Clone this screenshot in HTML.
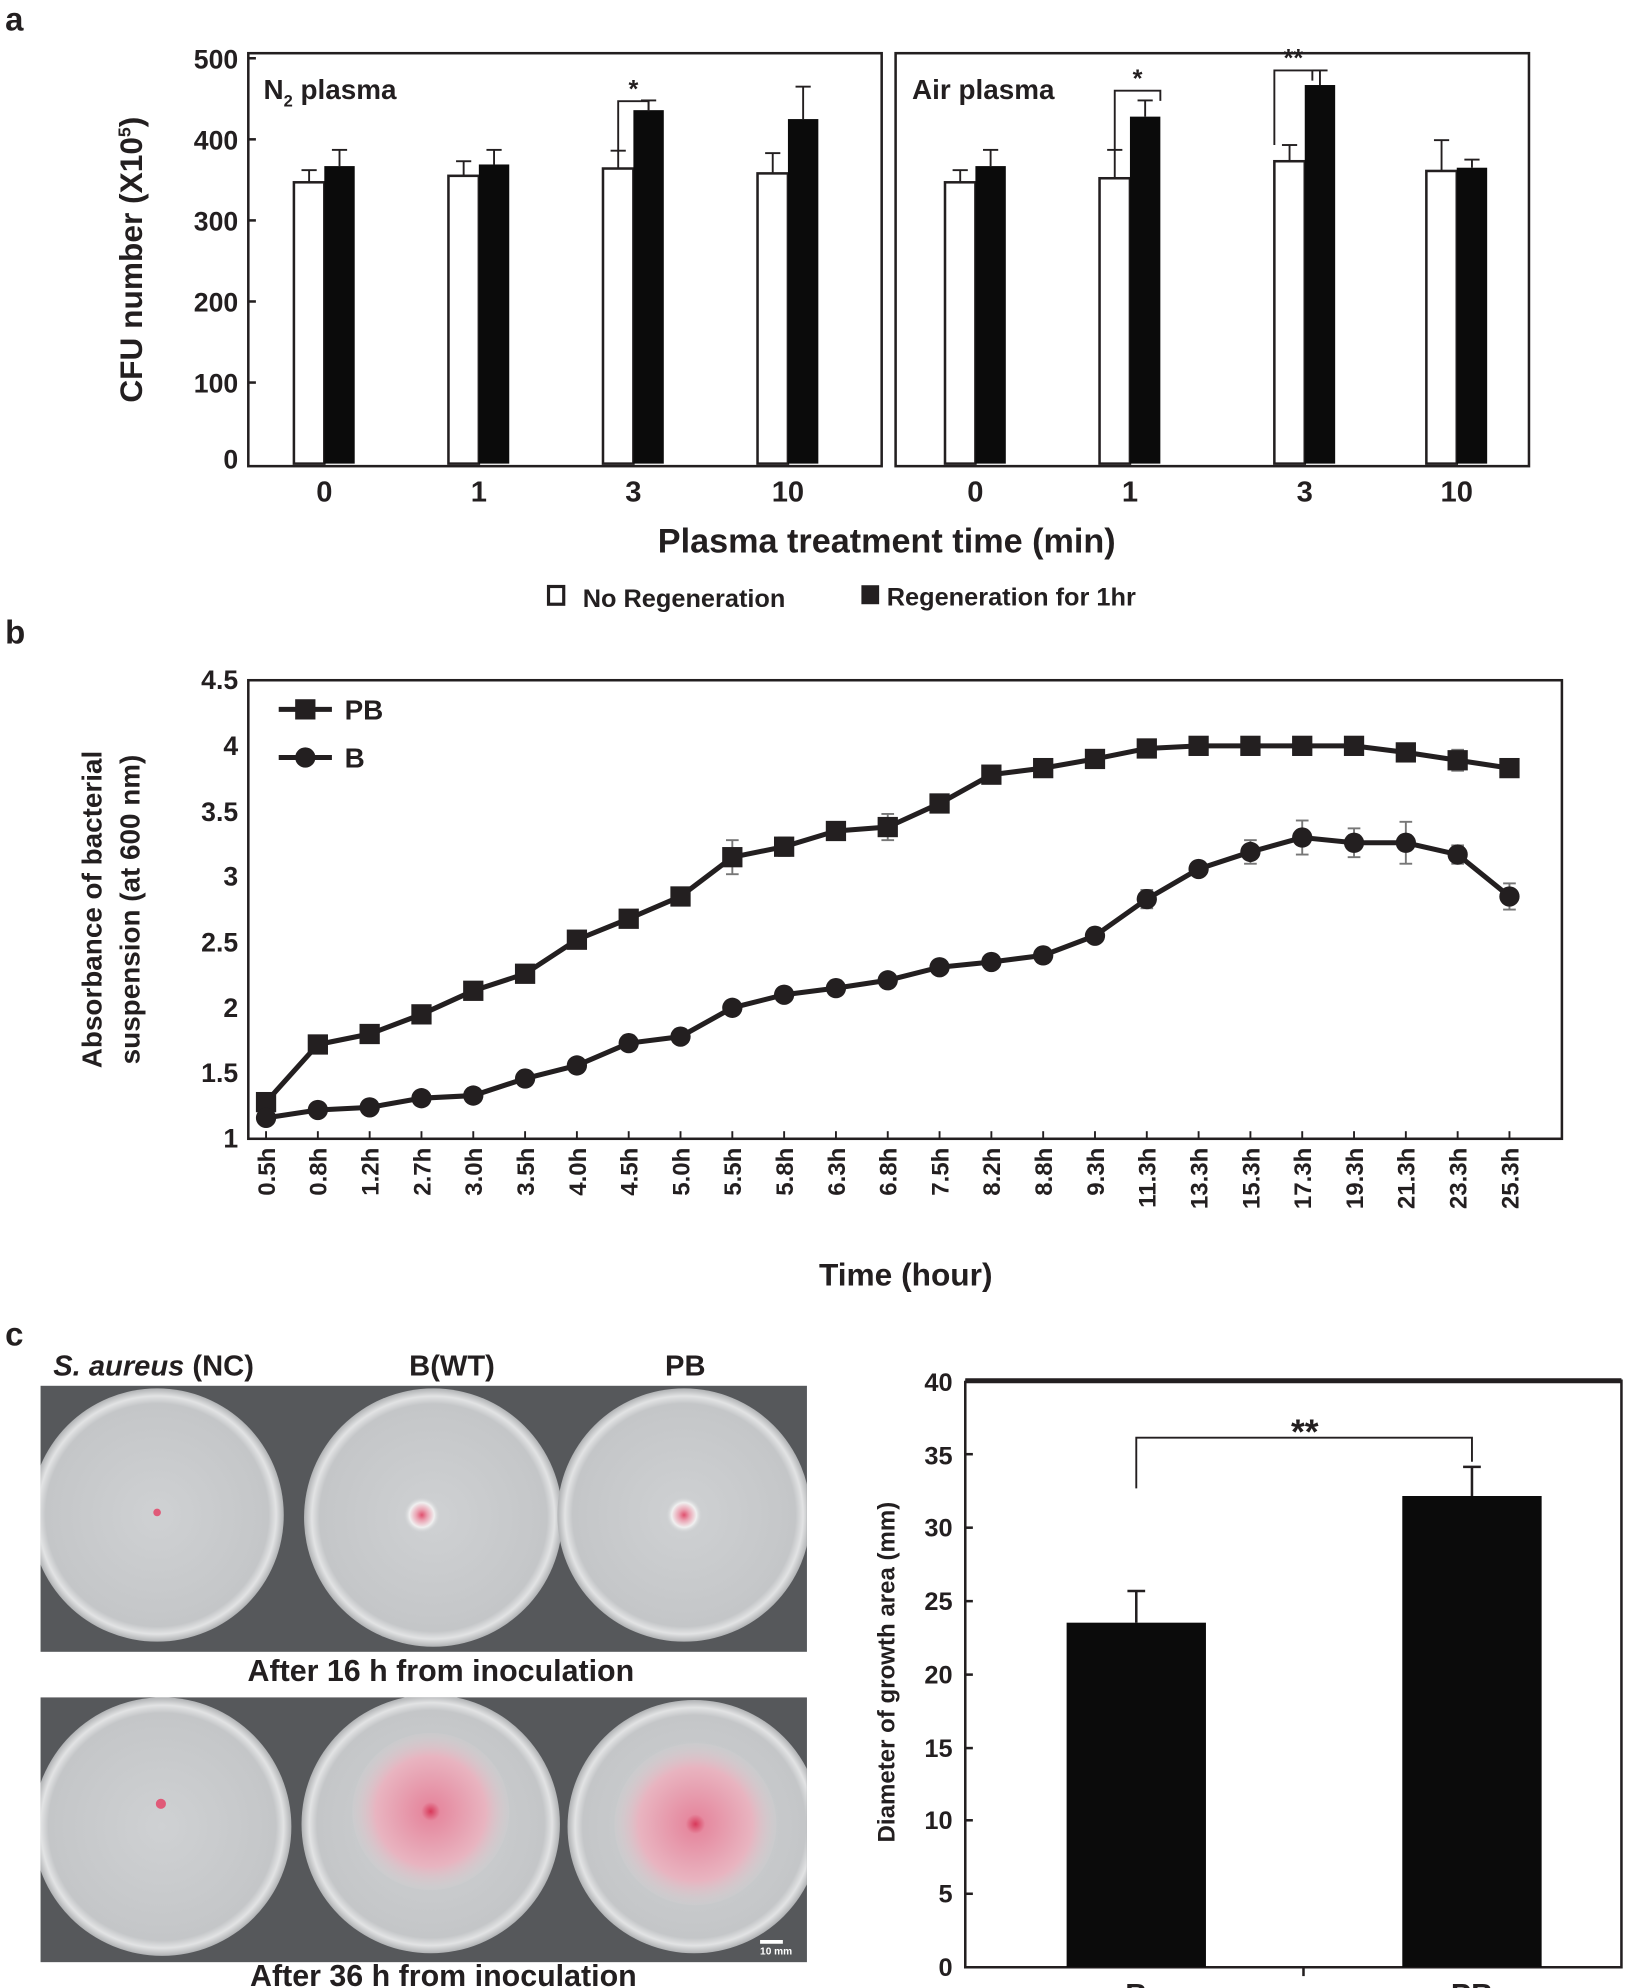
<!DOCTYPE html>
<html><head><meta charset="utf-8"><style>html,body{margin:0;padding:0;background:#fff}svg{display:block}text{font-family:"Liberation Sans",Arial,sans-serif;font-weight:bold;fill:#231f20}</style></head><body>
<svg width="1643" height="1988" viewBox="0 0 1297 1569.4" xmlns="http://www.w3.org/2000/svg">
<defs>
<radialGradient id="plate" cx="50%" cy="50%" r="50%"><stop offset="0" stop-color="#cfd1d3"/><stop offset="0.88" stop-color="#c4c6c8"/><stop offset="0.94" stop-color="#e2e3e4"/><stop offset="1" stop-color="#b0b2b4"/></radialGradient>
<radialGradient id="pink" cx="50%" cy="50%" r="50%"><stop offset="0" stop-color="#d8395a"/><stop offset="0.12" stop-color="#e68aa0"/><stop offset="0.7" stop-color="#e8b4c0"/><stop offset="1" stop-color="#d4d0d2" stop-opacity="0.3"/></radialGradient>
<radialGradient id="dot" cx="50%" cy="50%" r="50%"><stop offset="0" stop-color="#e0506e"/><stop offset="0.3" stop-color="#eaa0b0"/><stop offset="0.7" stop-color="#f0f0f0"/><stop offset="1" stop-color="#d4d6d8" stop-opacity="0"/></radialGradient>
</defs>
<text x="4" y="24" font-size="26">a</text>
<text x="4" y="508" font-size="26">b</text>
<text x="4" y="1062" font-size="26">c</text>

<g stroke="#231f20" stroke-width="2" fill="none">
<rect x="196" y="42" width="500" height="326"/>
<rect x="707" y="42" width="500" height="326"/>
</g>
<g font-size="21" text-anchor="end">
<text x="188" y="54">500</text><text x="188" y="118">400</text><text x="188" y="182">300</text><text x="188" y="246">200</text><text x="188" y="310">100</text><text x="188" y="370">0</text>
</g>
<g stroke="#231f20" stroke-width="2">
<line x1="196" y1="46" x2="202" y2="46"/><line x1="196" y1="110" x2="202" y2="110"/><line x1="196" y1="174" x2="202" y2="174"/><line x1="196" y1="238" x2="202" y2="238"/><line x1="196" y1="302" x2="202" y2="302"/>
</g>
<text transform="translate(112,205) rotate(-90)" font-size="25" text-anchor="middle">CFU number (X10<tspan dy="-9" font-size="14">5</tspan><tspan dy="9">)</tspan></text>
<text x="208" y="78" font-size="22">N<tspan dy="6" font-size="13">2</tspan><tspan dy="-6"> plasma</tspan></text>
<text x="720" y="78" font-size="22">Air plasma</text>
<g id="bars"></g>
<g font-size="23" text-anchor="middle">
<text x="256" y="396">0</text><text x="378" y="396">1</text><text x="500" y="396">3</text><text x="622" y="396">10</text>
<text x="770" y="396">0</text><text x="892" y="396">1</text><text x="1030" y="396">3</text><text x="1150" y="396">10</text>
</g>
<text x="700" y="436" font-size="27" text-anchor="middle">Plasma treatment time (min)</text>
<rect x="433" y="463" width="12" height="14" fill="#fff" stroke="#231f20" stroke-width="2.5"/>
<text x="460" y="479" font-size="20">No Regeneration</text>
<rect x="680" y="462" width="14" height="15" fill="#231f20"/>
<text x="700" y="478" font-size="20">Regeneration for 1hr</text>

<rect x="196" y="537" width="1037" height="362" fill="none" stroke="#231f20" stroke-width="2"/>
<g font-size="21" text-anchor="end">
<text x="188" y="544">4.5</text><text x="188" y="596">4</text><text x="188" y="648">3.5</text><text x="188" y="699">3</text><text x="188" y="751">2.5</text><text x="188" y="803">2</text><text x="188" y="854">1.5</text><text x="188" y="906">1</text>
</g>
<text transform="translate(80,718) rotate(-90)" font-size="22" text-anchor="middle">Absorbance of bacterial</text>
<text transform="translate(110,718) rotate(-90)" font-size="22" text-anchor="middle">suspension (at 600 nm)</text>
<g id="bpl"></g>
<text x="715" y="1015" font-size="25" text-anchor="middle">Time (hour)</text>
<line x1="220" y1="560" x2="262" y2="560" stroke="#231f20" stroke-width="4"/><rect x="233" y="552" width="16" height="16" fill="#231f20"/>
<text x="272" y="568" font-size="22">PB</text>
<line x1="220" y1="598" x2="262" y2="598" stroke="#231f20" stroke-width="4"/><circle cx="241" cy="598" r="8" fill="#231f20"/>
<text x="272" y="606" font-size="22">B</text>

<text x="42" y="1086" font-size="23"><tspan font-style="italic">S. aureus</tspan> (NC)</text>
<text x="323" y="1086" font-size="23">B(WT)</text>
<text x="525" y="1086" font-size="23">PB</text>
<rect x="32" y="1094" width="605" height="210" fill="#56585b"/>
<rect x="32" y="1340" width="605" height="209" fill="#56585b"/>
<svg x="32" y="1094" width="605" height="210" overflow="hidden">
<circle cx="92" cy="102" r="100" fill="url(#plate)"/><circle cx="310" cy="104" r="102" fill="url(#plate)"/><circle cx="508" cy="102" r="100" fill="url(#plate)"/>
<circle cx="92" cy="100" r="3" fill="#e05a78"/><circle cx="301" cy="102" r="14" fill="url(#dot)"/><circle cx="508" cy="102" r="14" fill="url(#dot)"/>
</svg>
<svg x="32" y="1340" width="605" height="209" overflow="hidden">
<circle cx="96" cy="102" r="102" fill="url(#plate)"/><circle cx="308" cy="100" r="102" fill="url(#plate)"/><circle cx="516" cy="102" r="100" fill="url(#plate)"/>
<circle cx="95" cy="84" r="4" fill="#e05a78"/><circle cx="308" cy="90" r="62" fill="url(#pink)"/><circle cx="517" cy="100" r="64" fill="url(#pink)"/>
</svg>
<line x1="600" y1="1533" x2="618" y2="1533" stroke="#fff" stroke-width="3"/>
<text x="600" y="1543" font-size="8" style="fill:#fff">10 mm</text>
<text x="348" y="1327" font-size="24" text-anchor="middle">After 16 h from inoculation</text>
<text x="350" y="1568" font-size="24" text-anchor="middle">After 36 h from inoculation</text>

<polyline points="762,1090 762,1553 1280,1553 1280,1090 762,1090" fill="none" stroke="#231f20" stroke-width="2"/>
<line x1="762" y1="1090" x2="1280" y2="1090" stroke="#231f20" stroke-width="4"/>
<g font-size="20" text-anchor="end">
<text x="752" y="1098">40</text><text x="752" y="1156">35</text><text x="752" y="1213">30</text><text x="752" y="1271">25</text><text x="752" y="1329">20</text><text x="752" y="1387">15</text><text x="752" y="1444">10</text><text x="752" y="1502">5</text><text x="752" y="1560">0</text>
</g>
<g stroke="#231f20" stroke-width="2">
<line x1="762" y1="1148" x2="768" y2="1148"/><line x1="762" y1="1206" x2="768" y2="1206"/><line x1="762" y1="1264" x2="768" y2="1264"/><line x1="762" y1="1322" x2="768" y2="1322"/><line x1="762" y1="1380" x2="768" y2="1380"/><line x1="762" y1="1437" x2="768" y2="1437"/><line x1="762" y1="1495" x2="768" y2="1495"/>
<line x1="1029" y1="1553" x2="1029" y2="1560"/>
</g>
<text transform="translate(706,1320) rotate(-90)" font-size="19" text-anchor="middle">Diameter of growth area (mm)</text>
<rect x="842" y="1281" width="110" height="272" fill="#0b0b0b"/>
<rect x="1107" y="1181" width="110" height="372" fill="#0b0b0b"/>
<g stroke="#231f20" stroke-width="2" fill="none">
<line x1="897" y1="1281" x2="897" y2="1256"/><line x1="890" y1="1256" x2="904" y2="1256"/>
<line x1="1162" y1="1181" x2="1162" y2="1158"/><line x1="1155" y1="1158" x2="1169" y2="1158"/>
<polyline points="897,1175 897,1135 1162,1135 1162,1154" stroke-width="1.5"/>
</g>
<text x="1030" y="1140" font-size="28" text-anchor="middle">**</text>
<text x="897" y="1583" font-size="24" text-anchor="middle">B</text>
<text x="1162" y="1583" font-size="24" text-anchor="middle">PB</text>
</svg>
<script>
const NS="http://www.w3.org/2000/svg";
function el(p,t,a,tx){const e=document.createElementNS(NS,t);for(const k in a)e.setAttribute(k,a[k]);if(tx!==undefined)e.textContent=tx;p.appendChild(e);return e;}
const g=document.getElementById('bars');
const yA=v=>366-v*0.64;
const groups=[[256,347,15,367,20],[378,355,18,369,18],[500,364,22,436,12],[622,358,25,425,40],[770,347,15,367,20],[892,352,35,428,20],[1030,373,20,467,18],[1150,361,38,365,10]];
groups.forEach(([x,w,we,b,be])=>{
 el(g,'rect',{x:x-24,y:yA(w),width:24,height:yA(0)-yA(w),fill:'#fff',stroke:'#231f20','stroke-width':2});
 el(g,'rect',{x:x,y:yA(b),width:24,height:yA(0)-yA(b),fill:'#0b0b0b'});
 [[x-12,w,we],[x+12,b,be]].forEach(([cx,v,e])=>{el(g,'line',{x1:cx,y1:yA(v),x2:cx,y2:yA(v+e),stroke:'#231f20','stroke-width':1.5});el(g,'line',{x1:cx-6,y1:yA(v+e),x2:cx+6,y2:yA(v+e),stroke:'#231f20','stroke-width':1.5});});
});
[[488,512,yA(386),yA(447),'*'],[880,916,yA(388),yA(460),'*'],[1006,1036,yA(393),yA(485),'**']].forEach(([x1,x2,ylo,yt,s])=>{
 el(g,'polyline',{points:`${x1},${ylo} ${x1},${yt} ${x2},${yt} ${x2},${yt+8}`,fill:'none',stroke:'#231f20','stroke-width':1.5});
 el(g,'text',{x:(x1+x2)/2,y:yt-3,'font-size':20,'text-anchor':'middle'},s);
});
const b=document.getElementById('bpl');
const labs=["0.5h","0.8h","1.2h","2.7h","3.0h","3.5h","4.0h","4.5h","5.0h","5.5h","5.8h","6.3h","6.8h","7.5h","8.2h","8.8h","9.3h","11.3h","13.3h","15.3h","17.3h","19.3h","21.3h","23.3h","25.3h"];
const PB=[1.28,1.72,1.80,1.95,2.13,2.26,2.52,2.68,2.85,3.15,3.23,3.35,3.38,3.56,3.78,3.83,3.90,3.98,4.0,4.0,4.0,4.0,3.95,3.89,3.83];
const PBe=[0,0,0,0,0,0,0,0.04,0,0.13,0.07,0,0.1,0,0,0.06,0.05,0,0,0,0,0,0,0.08,0];
const B=[1.16,1.22,1.24,1.31,1.33,1.46,1.56,1.73,1.78,2.0,2.1,2.15,2.21,2.31,2.35,2.40,2.55,2.83,3.06,3.19,3.30,3.26,3.26,3.17,2.85];
const Be=[0,0,0,0,0,0,0,0,0,0,0,0,0,0,0,0,0,0.07,0.05,0.09,0.13,0.11,0.16,0.07,0.1];
const xb=i=>210+i*40.9, yb=v=>899-(v-1)*103.4;
labs.forEach((l,i)=>{el(b,'line',{x1:xb(i),y1:899,x2:xb(i),y2:893,stroke:'#231f20','stroke-width':1.5});el(b,'text',{transform:`translate(${xb(i)+7},${906}) rotate(-90)`,'font-size':19,'text-anchor':'end'},l);});
[[PB,PBe,'s'],[B,Be,'c']].forEach(([d,e,m])=>{
 d.forEach((v,i)=>{if(e[i]>0){el(b,'line',{x1:xb(i),y1:yb(v-e[i]),x2:xb(i),y2:yb(v+e[i]),stroke:'#777','stroke-width':1.5});[v-e[i],v+e[i]].forEach(w=>el(b,'line',{x1:xb(i)-5,y1:yb(w),x2:xb(i)+5,y2:yb(w),stroke:'#777','stroke-width':1.5}));}});
 el(b,'polyline',{points:d.map((v,i)=>xb(i)+','+yb(v)).join(' '),fill:'none',stroke:'#231f20','stroke-width':4});
 d.forEach((v,i)=>{if(m==='s')el(b,'rect',{x:xb(i)-8,y:yb(v)-8,width:16,height:16,fill:'#231f20'});else el(b,'circle',{cx:xb(i),cy:yb(v),r:8,fill:'#231f20'});});
});
</script>
</body></html>
